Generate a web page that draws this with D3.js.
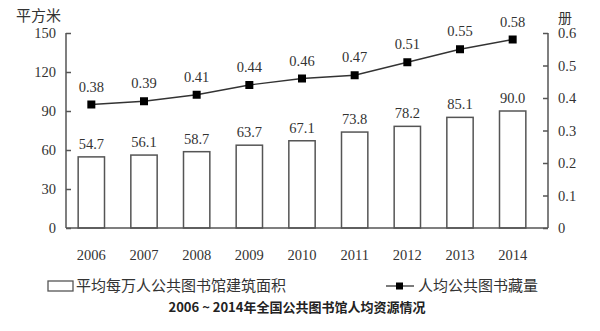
<!DOCTYPE html>
<html><head><meta charset="utf-8">
<script src="https://cdn.jsdelivr.net/npm/d3@7"></script>
<style>body{margin:0;background:#fff}</style>
</head><body>
<svg id="c" width="600" height="331"></svg>
<script>
const years = ["2006","2007","2008","2009","2010","2011","2012","2013","2014"];
const areaValues = [54.7, 56.1, 58.7, 63.7, 67.1, 73.8, 78.2, 85.1, 90.0];
const bookValues = [0.38, 0.39, 0.41, 0.44, 0.46, 0.47, 0.51, 0.55, 0.58];
const leftTicks = [0, 30, 60, 90, 120, 150];
const rightTicks = [0, 0.1, 0.2, 0.3, 0.4, 0.5, 0.6];
const barLegend = "平均每万人公共图书馆建筑面积";
const lineLegend = "人均公共图书藏量";
const title = "2006 ~ 2014年全国公共图书馆人均资源情况";
const leftUnit = "平方米", rightUnit = "册";

const svg = d3.select("#c");
const L = 66, R = 548, T = 33, B = 228;
const serif = "'Liberation Serif','Times New Roman',serif";
const cjk = "'Noto Sans CJK SC',sans-serif";
const axisColor = "#555";

const x = d3.scaleBand().domain(years).range([65, 539]).paddingInner(0.5).paddingOuter(0.25);
const yL = d3.scaleLinear().domain([0, 150]).range([B, T]);
const yR = d3.scaleLinear().domain([0, 0.6]).range([B, T]);

// bars
svg.selectAll("rect.bar").data(years).join("rect")
  .attr("x", d => x(d)).attr("width", x.bandwidth())
  .attr("y", (d,i) => yL(areaValues[i])).attr("height", (d,i) => B - yL(areaValues[i]))
  .attr("fill", "#fff").attr("stroke", "#555").attr("stroke-width", 1.5);

svg.selectAll("text.bl").data(years).join("text")
  .attr("x", d => x(d) + x.bandwidth()/2).attr("y", (d,i) => yL(areaValues[i]) - 8)
  .attr("text-anchor", "middle").attr("font-family", serif).attr("font-size", 14.5).attr("fill", "#333")
  .text((d,i) => areaValues[i].toFixed(1));

// axes
const gl = svg.append("g").attr("transform", `translate(${L},0)`)
  .call(d3.axisLeft(yL).tickValues(leftTicks).tickSize(-5).tickPadding(10).tickFormat(d3.format("d")));
const gr = svg.append("g").attr("transform", `translate(${R},0)`)
  .call(d3.axisRight(yR).tickValues(rightTicks).tickSize(-5).tickPadding(10).tickFormat(d => d === 0 ? "0" : d3.format(".1f")(d)));
const gb = svg.append("g").attr("transform", `translate(0,${B})`)
  .call(d3.axisBottom(x).tickSize(0).tickPadding(22));
gb.select(".domain").attr("d", `M${L},0H${R}`);
[gl, gr, gb].forEach(g => {
  g.selectAll("path,line").attr("stroke", axisColor).attr("stroke-width", 1.5);
  g.selectAll("text").attr("font-family", serif).attr("font-size", 14.5).attr("fill", "#333");
});
gl.select(".domain").attr("d", `M0,${T}V${B}`);
gr.select(".domain").attr("d", `M0,${T}V${B}`);

// line
const line = d3.line().x((d,i) => x(years[i]) + x.bandwidth()/2).y(d => yR(d));
svg.append("path").datum(bookValues).attr("d", line).attr("fill", "none").attr("stroke", "#333").attr("stroke-width", 1.3);
svg.selectAll("rect.mk").data(bookValues).join("rect")
  .attr("x", (d,i) => x(years[i]) + x.bandwidth()/2 - 4).attr("y", d => yR(d) - 4)
  .attr("width", 8).attr("height", 8).attr("fill", "#000");
svg.selectAll("text.ll").data(bookValues).join("text")
  .attr("x", (d,i) => x(years[i]) + x.bandwidth()/2).attr("y", d => yR(d) - 13)
  .attr("text-anchor", "middle").attr("font-family", serif).attr("font-size", 14.5).attr("fill", "#333")
  .text(d => d.toFixed(2));

// units
svg.append("text").attr("x", 16).attr("y", 21).attr("font-family", cjk).attr("font-size", 15).attr("fill", "#333").text(leftUnit);
svg.append("text").attr("x", 558).attr("y", 23).attr("font-family", cjk).attr("font-size", 14).attr("fill", "#333").text(rightUnit);

// legend
svg.append("rect").attr("x", 48).attr("y", 281).attr("width", 25).attr("height", 10).attr("fill", "#fff").attr("stroke", "#555").attr("stroke-width", 1.3);
svg.append("text").attr("x", 76).attr("y", 291).attr("font-family", cjk).attr("font-size", 15).attr("fill", "#333").text(barLegend);
svg.append("line").attr("x1", 386).attr("x2", 414).attr("y1", 286).attr("y2", 286).attr("stroke", "#333").attr("stroke-width", 1.3);
svg.append("rect").attr("x", 396).attr("y", 282.5).attr("width", 7).attr("height", 7).attr("fill", "#000");
svg.append("text").attr("x", 418).attr("y", 291).attr("font-family", cjk).attr("font-size", 15).attr("fill", "#333").text(lineLegend);

// title
svg.append("text").attr("x", 297).attr("y", 312).attr("text-anchor", "middle").attr("font-family", cjk)
  .attr("font-weight", "bold").attr("font-size", 13).attr("fill", "#222").text(title);
</script>
</body></html>
